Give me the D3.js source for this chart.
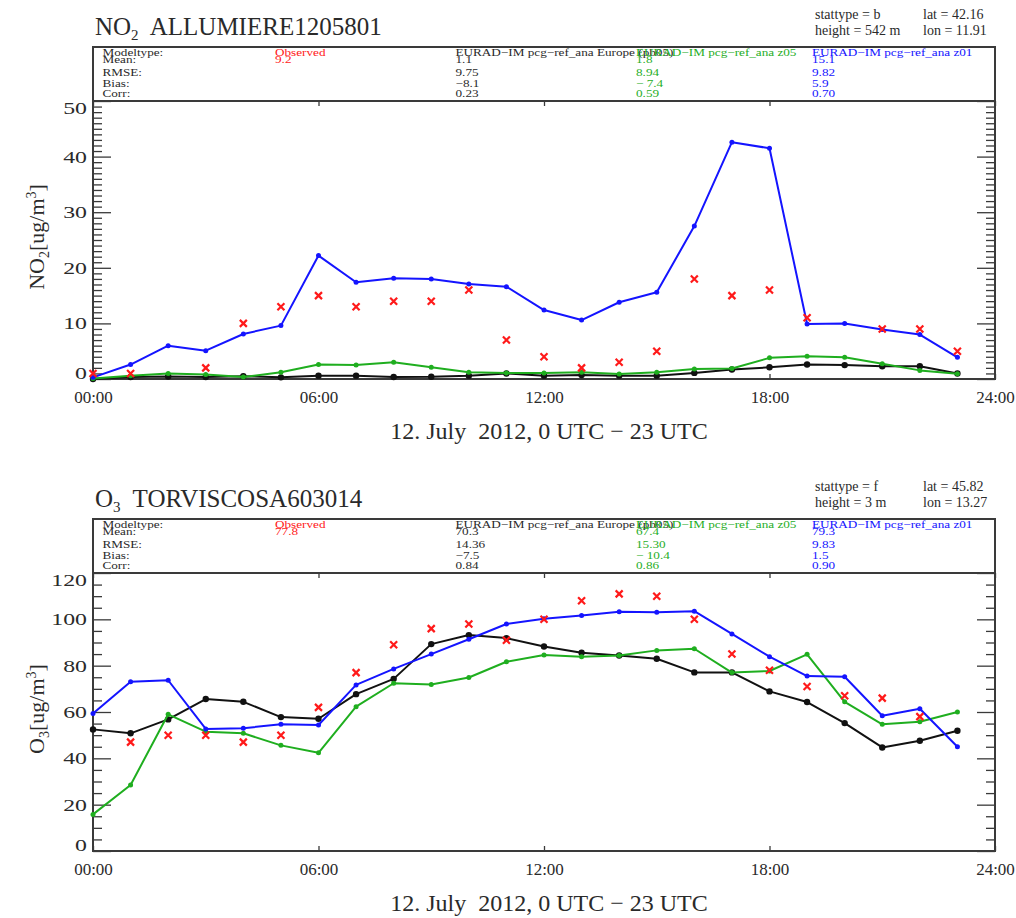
<!DOCTYPE html>
<html>
<head>
<meta charset="utf-8">
<script src="https://cdn.jsdelivr.net/npm/d3@7"></script>
<style>
  html, body { margin: 0; padding: 0; background: #fff; }
  svg { display: block; }
  text { font-family: "Liberation Serif", "DejaVu Serif", serif; white-space: pre; }
</style>
</head>
<body>
<svg id="chart" width="1016" height="918"></svg>
<script>
// ---- hourly axis ----
const hours = [0, 1, 2, 3, 4, 5, 6, 7, 8, 9, 10, 11, 12, 13, 14, 15, 16, 17, 18, 19, 20, 21, 22, 23];
const xTickHours = [0, 6, 12, 18, 24];
const xTickLabels = ["00:00", "06:00", "12:00", "18:00", "24:00"];

// ---- NO2, ALLUMIERE1205801 (ug/m3) ----
const no2Observed = [1, 1, null, 2, 10, 13, 15, 13, 14, 14, 16, 7, 4, 2, 3, 5, 18, 15, 16, 11, null, 9, 9, 5];
const no2Europe = [0.0, 0.35, 0.45, 0.35, 0.5, 0.3, 0.6, 0.6, 0.35, 0.4, 0.6, 1.0, 0.6, 0.7, 0.6, 0.6, 1.1, 1.7, 2.1, 2.6, 2.5, 2.3, 2.3, 1.0];
const no2Z05 = [0.1, 0.6, 1.0, 0.8, 0.35, 1.2, 2.6, 2.5, 3.0, 2.1, 1.2, 1.1, 1.1, 1.2, 0.9, 1.2, 1.8, 1.9, 3.8, 4.1, 3.9, 2.75, 1.55, 0.95];
const no2Z01 = [0.3, 2.6, 6.0, 5.1, 8.1, 9.6, 22.2, 17.4, 18.1, 18.0, 17.1, 16.6, 12.4, 10.6, 13.8, 15.6, 27.5, 42.6, 41.5, 9.9, 10.0, 8.9, 8.0, 3.9];
const no2YTicks = [0, 10, 20, 30, 40, 50];
const no2YMinor = [1, 2, 3, 4, 5, 6, 7, 8, 9, 11, 12, 13, 14, 15, 16, 17, 18, 19, 21, 22, 23, 24, 25, 26, 27, 28, 29,
                   31, 32, 33, 34, 35, 36, 37, 38, 39, 41, 42, 43, 44, 45, 46, 47, 48, 49];
const no2Station = ["stattype = b", "height = 542 m", "lat = 42.16", "lon = 11.91"];
const no2Stats = {
  obs: ["9.2"],
  europe: ["1.1", "9.75", "\u22128.1", "0.23"],
  z05: ["1.8", "8.94", "\u2212 7.4", "0.59"],
  z01: ["15.1", "9.82", "5.9", "0.70"]
};

// ---- O3, TORVISCOSA603014 (ug/m3) ----
const o3Observed = [null, 47, 50, 50, 47, 50, 62, 77, 89, 96, 98, 91, 100, 108, 111, 110, 100, 85, 78, 71, 67, 66, 58, null];
const o3Europe = [52.5, 50.8, 56.8, 65.6, 64.4, 57.8, 57.1, 67.7, 74.3, 89.3, 93.2, 91.9, 88.3, 85.6, 84.4, 83.0, 77.1, 77.1, 68.9, 64.3, 55.2, 44.7, 47.6, 51.9];
const o3Z05 = [15.8, 28.5, 59.0, 51.5, 50.8, 45.6, 42.4, 62.3, 72.4, 71.9, 74.9, 81.7, 84.6, 83.9, 84.4, 86.6, 87.3, 77.0, 77.7, 84.9, 64.4, 54.7, 55.8, 60.0];
const o3Z01 = [59.4, 73.1, 73.7, 52.7, 53.0, 54.7, 54.4, 71.7, 78.6, 85.0, 91.4, 98.0, 100.3, 101.7, 103.3, 103.1, 103.5, 93.7, 83.9, 75.5, 75.2, 58.4, 61.4, 45.0];
const o3YTicks = [0, 20, 40, 60, 80, 100, 120];
const o3YMinor = [5, 10, 15, 25, 30, 35, 45, 50, 55, 65, 70, 75, 85, 90, 95, 105, 110, 115];
const o3Station = ["stattype = f", "height = 3 m", "lat = 45.82", "lon = 13.27"];
const o3Stats = {
  obs: ["77.8"],
  europe: ["70.3", "14.36", "\u22127.5", "0.84"],
  z05: ["67.4", "15.30", "\u2212 10.4", "0.86"],
  z01: ["79.3", "9.83", "1.5", "0.90"]
};

// ---- table labels ----
const statRowLabels = ["Modeltype:", "Mean:", "RMSE:", "Bias:", "Corr:"];
const modelNames = ["Observed", "EURAD\u2212IM pcg\u2212ref_ana Europe (pb05)", "EURAD\u2212IM pcg\u2212ref_ana z05", "EURAD\u2212IM pcg\u2212ref_ana z01"];
const xTitle = "12. July  2012, 0 UTC \u2212 23 UTC";

// ---- styling ----
const C = { obs: "#ff1a1a", europe: "#111111", z05: "#1fae1f", z01: "#1414ff", ink: "#2a2a2a", frame: "#3a3a3a" };

const svg = d3.select("#chart");
const left = 93, right = 995;
const x = d3.scaleLinear().domain([0, 24]).range([left, right]);

function drawPanel(cfg) {
  const top = cfg.top, bottom = top + 278;
  const g = svg.append("g");
  const y = d3.scaleLinear().domain(cfg.yDomain).range([bottom, top]);

  // title with subscript
  const t = g.append("text").attr("x", 95).attr("y", top - 66).attr("font-size", 25).attr("fill", C.ink);
  t.append("tspan").text(cfg.species[0]);
  t.append("tspan").attr("font-size", 15).attr("dy", 5).text(cfg.species[1]);
  t.append("tspan").attr("dy", -5).text("  " + cfg.station);

  // station info at the top right
  const info = [[815, top - 82.5, cfg.info[0]], [815, top - 66, cfg.info[1]], [923, top - 82.5, cfg.info[2]], [923, top - 66, cfg.info[3]]];
  g.selectAll("text.info").data(info).join("text").attr("class", "info")
    .attr("x", d => d[0]).attr("y", d => d[1]).attr("font-size", 14).attr("fill", C.ink).text(d => d[2]);

  // statistics table
  g.append("rect").attr("x", left).attr("y", top - 54).attr("width", right - left).attr("height", 54)
    .attr("fill", "none").attr("stroke", C.frame).attr("stroke-width", 2);
  const rowY = [top - 45.5, top - 38, top - 25.3, top - 14.3, top - 3.7];
  const sx = 1.2;
  const cell = (xx, yy, txt, col) => g.append("text")
    .attr("transform", `translate(${xx},${yy}) scale(${sx},1)`)
    .attr("font-size", 11).attr("fill", col).text(txt);
  statRowLabels.forEach((lab, i) => cell(102.5, rowY[i], lab, C.ink));
  const cols = [[275, C.obs, cfg.stats.obs], [455.5, C.ink, cfg.stats.europe], [636, C.z05, cfg.stats.z05], [812, C.z01, cfg.stats.z01]];
  cols.forEach((c, j) => {
    cell(c[0], rowY[0], modelNames[j], c[1]);
    c[2].forEach((v, i) => cell(c[0], rowY[i + 1], v, c[1]));
  });

  // axes
  const fontX = 17, fontY = 17, stretchY = 1.4;
  const xAxis = d3.axisBottom(x).tickValues(xTickHours).tickFormat((d, i) => xTickLabels[i]).tickSize(-5).tickPadding(12);
  const gx = g.append("g").attr("transform", `translate(0,${bottom})`).call(xAxis);
  gx.selectAll("text").attr("font-size", fontX).attr("font-family", "Liberation Serif").attr("fill", C.ink);
  g.append("g").attr("transform", `translate(0,${top})`).call(d3.axisTop(x).tickValues(xTickHours).tickFormat("").tickSize(-5));

  const yAxis = d3.axisLeft(y).tickValues(cfg.yTicks).tickFormat(d3.format("d")).tickSize(-18).tickPadding(6);
  const gy = g.append("g").attr("transform", `translate(${left},0)`).call(yAxis);
  const n = cfg.yTicks.length;
  gy.selectAll("text")
    .attr("font-size", fontY).attr("font-family", "Liberation Serif").attr("fill", C.ink)
    .attr("x", -6 / stretchY)
    .attr("transform", (d, i) => `translate(0,${i === 0 ? -6 : (i === n - 1 ? 7 : 0)}) scale(${stretchY},1)`);
  g.append("g").attr("transform", `translate(${left},0)`).call(d3.axisLeft(y).tickValues(cfg.yMinor).tickFormat("").tickSize(-9));
  g.append("g").attr("transform", `translate(${right},0)`).call(d3.axisRight(y).tickValues(cfg.yTicks).tickFormat("").tickSize(-18));
  g.append("g").attr("transform", `translate(${right},0)`).call(d3.axisRight(y).tickValues(cfg.yMinor).tickFormat("").tickSize(-9));
  g.selectAll(".domain").remove();
  g.selectAll(".tick line").attr("stroke", C.frame).attr("stroke-width", 1.3);

  g.append("rect").attr("x", left).attr("y", top).attr("width", right - left).attr("height", bottom - top)
    .attr("fill", "none").attr("stroke", C.frame).attr("stroke-width", 2);

  // y title
  const yt = g.append("text").attr("transform", `translate(44,${(top + bottom) / 2 - 3}) rotate(-90)`)
    .attr("text-anchor", "middle").attr("font-size", 22).attr("fill", C.ink);
  yt.append("tspan").text(cfg.species[0]);
  yt.append("tspan").attr("font-size", 14).attr("dy", 5).text(cfg.species[1]);
  yt.append("tspan").attr("dy", -5).text("[ug/m");
  yt.append("tspan").attr("font-size", 14).attr("dy", -8).text("3");
  yt.append("tspan").attr("dy", 8).text("]");

  // x title
  g.append("text").attr("x", 549).attr("y", bottom + 60).attr("text-anchor", "middle")
    .attr("font-size", 24).attr("fill", C.ink).text(xTitle);

  // model series
  const plot = g.append("g");
  const line = d3.line().defined(d => d[1] != null).x(d => x(d[0])).y(d => y(d[1]));
  const series = [[cfg.europe, C.europe, 3.2], [cfg.z05, C.z05, 2.5], [cfg.z01, C.z01, 2.5]];
  series.forEach(([vals, col, r]) => {
    const pts = hours.map((h, i) => [h, vals[i]]);
    plot.append("path").datum(pts).attr("d", line).attr("fill", "none")
      .attr("stroke", col).attr("stroke-width", 2).attr("stroke-linejoin", "round");
    plot.selectAll(null).data(pts.filter(d => d[1] != null)).join("circle")
      .attr("cx", d => x(d[0])).attr("cy", d => y(d[1])).attr("r", r).attr("fill", col);
  });

  // observations as crosses
  const obs = hours.map((h, i) => [h, cfg.obs[i]]).filter(d => d[1] != null);
  const s = 3.5;
  plot.selectAll(null).data(obs).join("path")
    .attr("d", d => {
      const cx = x(d[0]), cy = y(d[1]);
      return `M${cx - s},${cy - s}L${cx + s},${cy + s}M${cx - s},${cy + s}L${cx + s},${cy - s}`;
    })
    .attr("stroke", C.obs).attr("stroke-width", 2.2).attr("fill", "none");
}

drawPanel({
  top: 101, yDomain: [0, 50], yTicks: no2YTicks, yMinor: no2YMinor,
  species: ["NO", "2"], station: "ALLUMIERE1205801", info: no2Station, stats: no2Stats,
  obs: no2Observed, europe: no2Europe, z05: no2Z05, z01: no2Z01
});
drawPanel({
  top: 573, yDomain: [0, 120], yTicks: o3YTicks, yMinor: o3YMinor,
  species: ["O", "3"], station: "TORVISCOSA603014", info: o3Station, stats: o3Stats,
  obs: o3Observed, europe: o3Europe, z05: o3Z05, z01: o3Z01
});
</script>
</body>
</html>
